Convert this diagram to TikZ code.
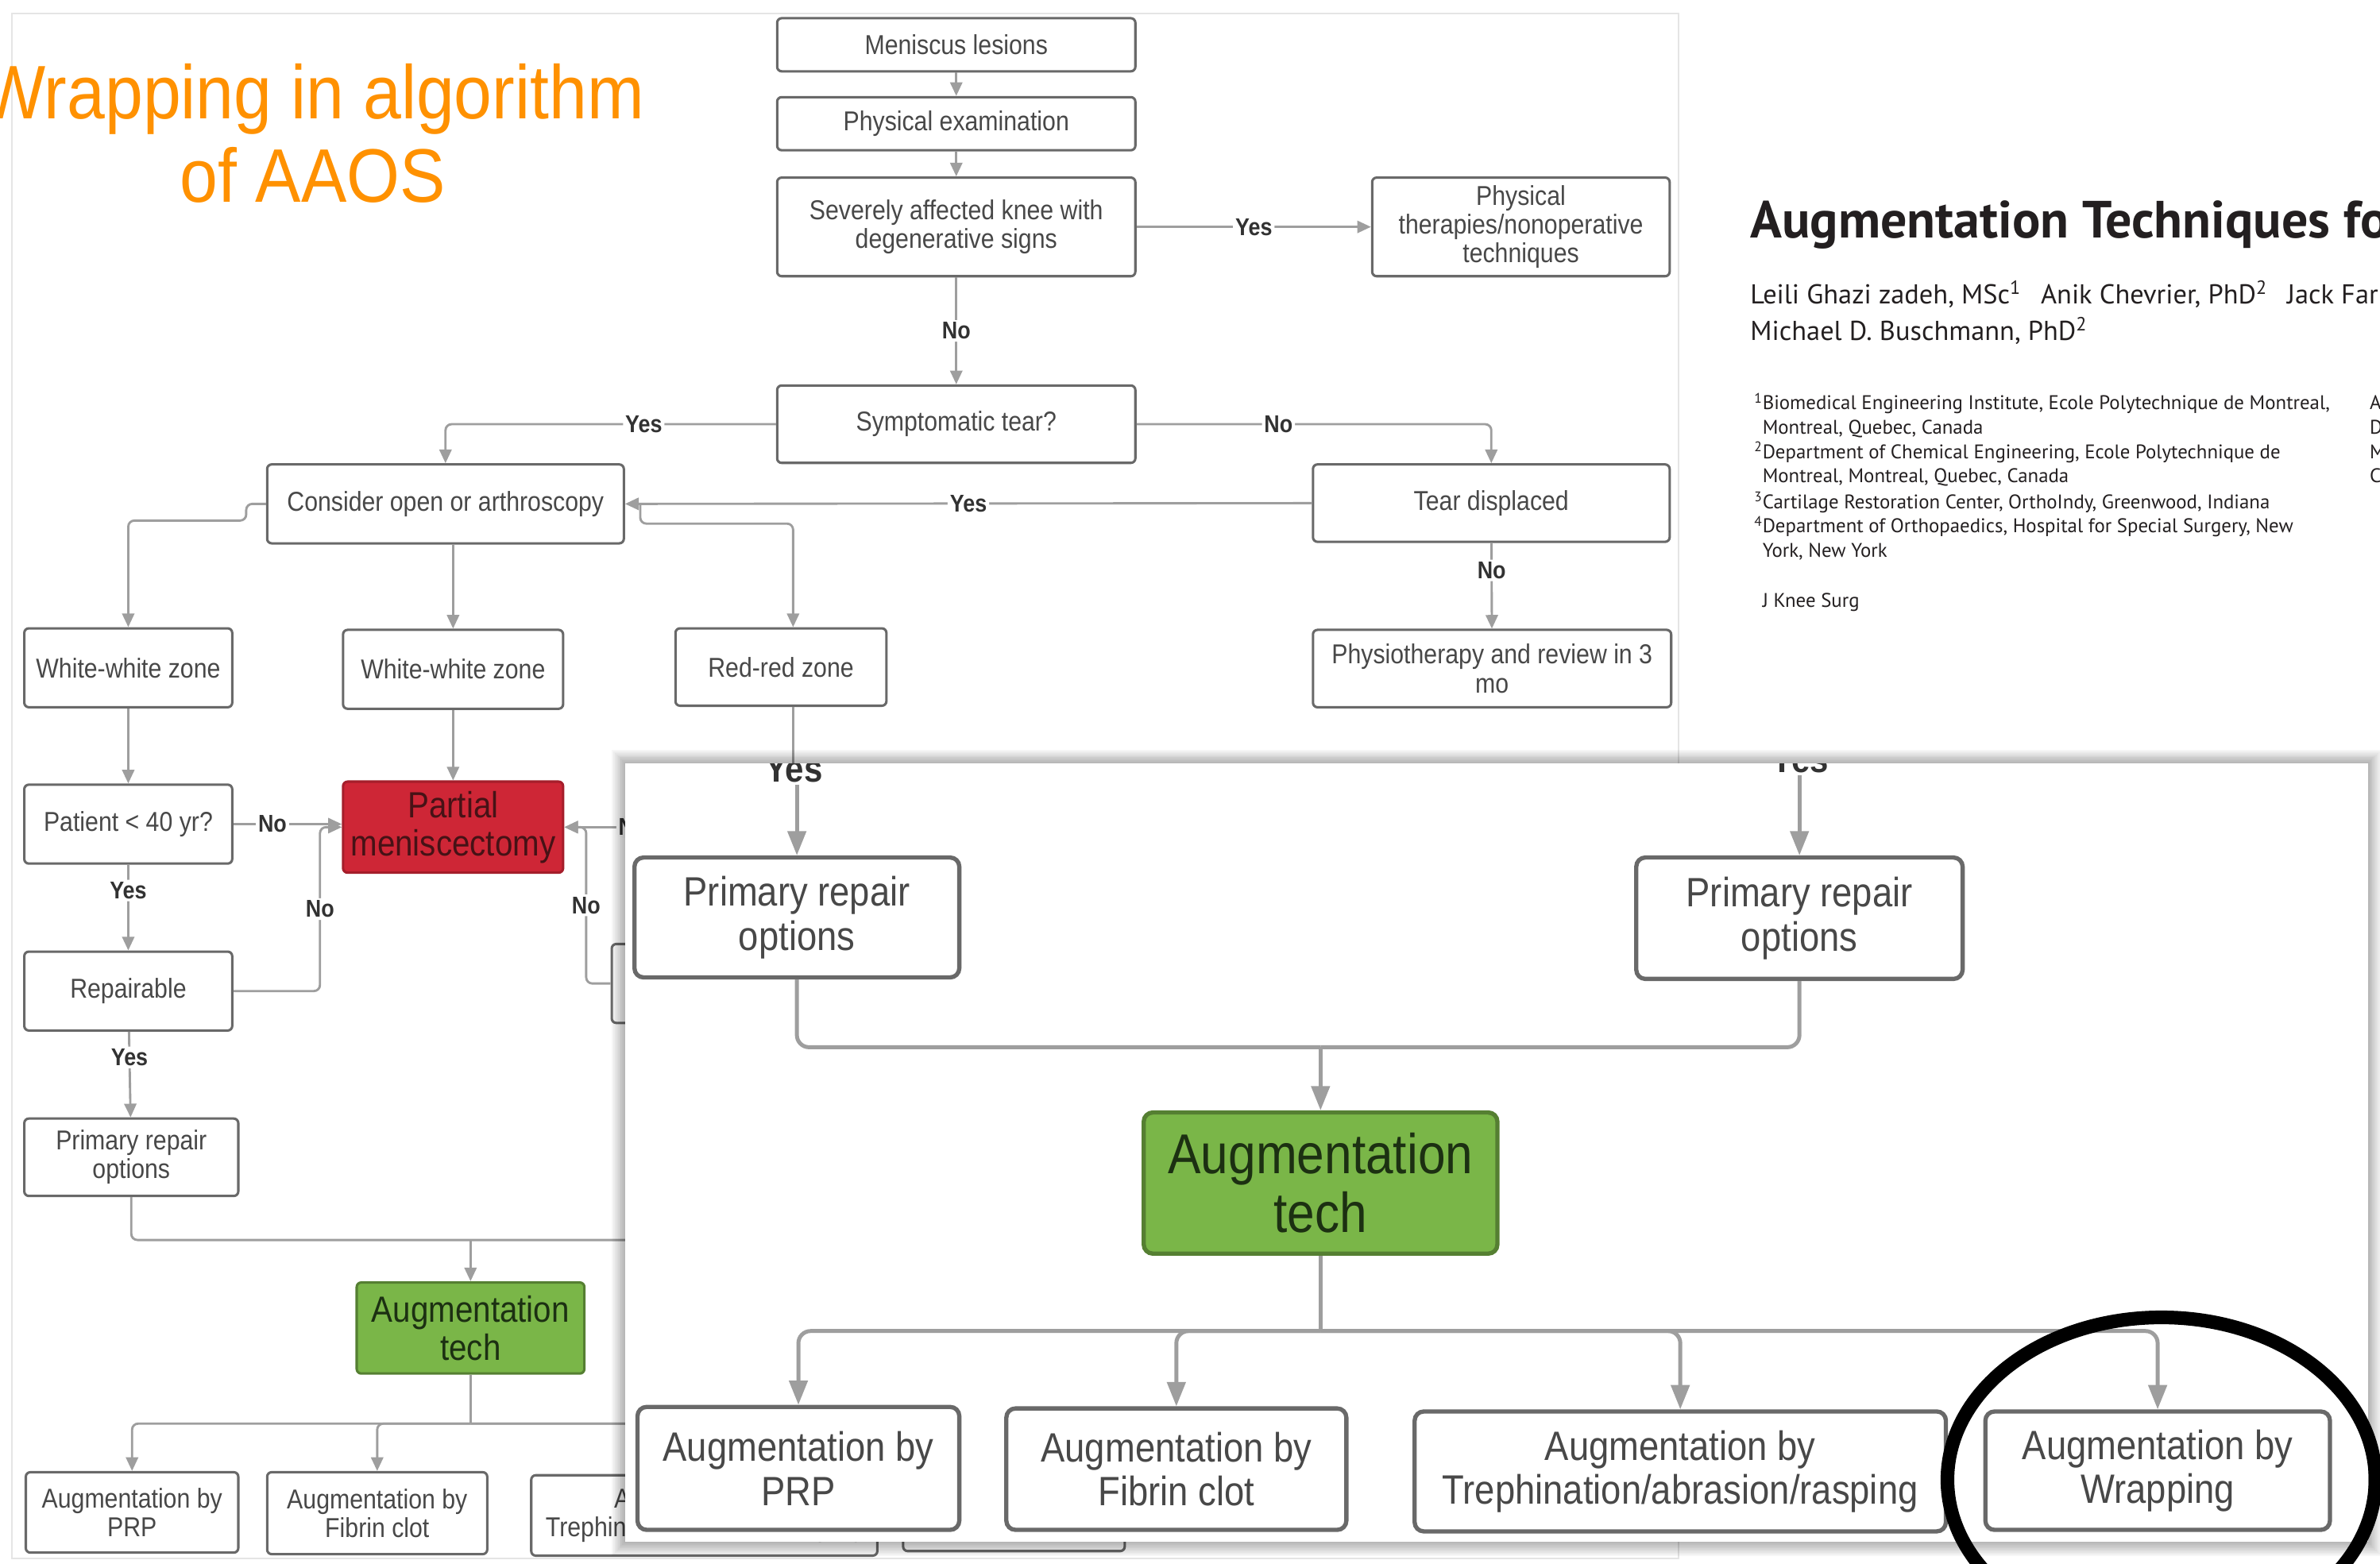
\documentclass[tikz,border=0pt]{standalone}
\usepackage{fontspec}
\setmainfont{Liberation Sans}
\newfontfamily\chartfont[FakeStretch=0.88]{Liberation Sans}
\newfontfamily\slidefont[FakeStretch=0.9]{Liberation Sans}
\newfontfamily\paperfont{PT Sans}
\usetikzlibrary{arrows.meta,positioning,calc}

\definecolor{boxline}{RGB}{105,105,105}
\definecolor{conngray}{RGB}{158,158,158}
\definecolor{charttext}{RGB}{72,72,72}
\definecolor{labtext}{RGB}{50,50,50}
\definecolor{menired}{RGB}{206,38,54}
\definecolor{redtext}{RGB}{70,18,22}
\definecolor{augreen}{RGB}{122,182,72}
\definecolor{greentext}{RGB}{28,48,18}
\definecolor{slideorange}{RGB}{255,145,0}
\definecolor{papertext}{RGB}{35,31,32}

\begin{document}
\begin{tikzpicture}[x=1pt,y=-1pt,
  bgbox/.style={draw=boxline,line width=1.6pt,rounded corners=3pt,fill=white,align=center,text=charttext,inner sep=1pt,font=\chartfont\fontsize{18}{19}\selectfont},
  bigbox/.style={bgbox,line width=2.8pt,rounded corners=6pt,font=\chartfont\fontsize{27}{29}\selectfont},
  wh/.style 2 args={minimum width=#1pt,minimum height=#2pt},
  redbox/.style={fill=menired,draw=menired!80!black,text=redtext,font=\chartfont\fontsize{24}{25}\selectfont},
  greenbox/.style={fill=augreen,draw=augreen!70!black,text=greentext,font=\chartfont\fontsize{24}{25}\selectfont},
  conn/.style={draw=conngray,line width=1.5pt,rounded corners=4pt},
  arr/.style={-{Triangle[length=9pt,width=8pt]}},
  oconn/.style={draw=conngray,line width=2.6pt,rounded corners=8pt},
  oarr/.style={-{Triangle[length=16pt,width=12pt]}},
  lab/.style={fill=white,inner sep=1.5pt,text=labtext,font=\chartfont\bfseries\fontsize{16}{16}\selectfont},
  olab/.style={lab,font=\chartfont\bfseries\fontsize{25}{25}\selectfont},
  paper/.style={anchor=base west,inner sep=0pt,text=papertext,font=\paperfont\fontsize{13}{16}\selectfont}]

\useasboundingbox (0,0) rectangle (1568,1030);

% screenshot of the algorithm
\draw[black!10,line width=1pt] (8,9) rectangle (1106,1027);

\node[bgbox,wh={236}{35}] (ml) at (630,29.5) {Meniscus lesions};
\node[bgbox,wh={236}{35}] (pe) at (630,81.5) {Physical examination};
\node[bgbox,wh={236}{65}] (sak) at (630,149.5) {Severely affected knee with\\degenerative signs};
\node[bgbox,wh={196}{65}] (ptn) at (1002,149.5) {Physical\\therapies/nonoperative\\techniques};
\node[bgbox,wh={236}{51}] (st) at (630,279.5) {Symptomatic tear?};
\node[bgbox,wh={235}{52}] (coa) at (293.5,332) {Consider open or arthroscopy};
\node[bgbox,wh={235}{51}] (td) at (982.5,331.5) {Tear displaced};
\node[bgbox,wh={236}{51}] (phy) at (983,440.5) {Physiotherapy and review in 3\\mo};
\node[bgbox,wh={137}{52}] (ww1) at (84.5,440) {White-white zone};
\node[bgbox,wh={145}{52}] (ww2) at (298.5,441) {White-white zone};
\node[bgbox,wh={139}{51}] (rr) at (514.5,439.5) {Red-red zone};
\node[bgbox,wh={137}{52}] (pat) at (84.5,543) {Patient < 40 yr?};
\node[bgbox,redbox,wh={145}{60}] (pm) at (298.5,545) {Partial\\meniscectomy};
\node[bgbox,wh={137}{52}] (rep) at (84.5,653) {Repairable};
\node[bgbox,wh={137}{52}] (hb) at (471.5,648) {};
\node[bgbox,wh={141}{51}] (pro) at (86.5,762.5) {Primary repair\\options};
\node[bgbox,greenbox,wh={150}{60}] (augt) at (310,875) {Augmentation\\tech};
\node[bgbox,wh={140}{53}] (aprp) at (87,996.5) {Augmentation by\\PRP};
\node[bgbox,wh={145}{54}] (afib) at (248.5,997) {Augmentation by\\Fibrin clot};
\node[bgbox,wh={228}{53}] (atre) at (464,998.5) {Augmentation by\\Trephination/abrasion/rasping};
\node[bgbox,wh={146}{53}] (awr) at (668,995.5) {};

\path[conn,arr] (ml) -- (pe);
\path[conn,arr] (pe) -- (sak);
\path[conn,arr] (sak) -- node[lab] (l1) {Yes} (ptn);
\path[conn,arr] (sak) -- node[lab] (l2) {No} (st);
\path[conn,arr] (st.west) -| node[lab,pos=0.2] (l3) {Yes} (coa.north);
\path[conn,arr] (st.east) -| node[lab,pos=0.2] (l4) {No} (td.north);
\path[conn,arr] (td.west) -- node[lab] (l5) {Yes} (coa.east);
\path[conn,arr] (td) -- node[lab,pos=0.32] (l6) {No} (phy);
\path[conn,arr] (coa.west) -- ++(-13,0) -- ++(0,11) -| (ww1.north);
\path[conn,arr] (coa.south -| ww2.north) -- (ww2.north);
\path[conn,arr] ([xshift=10pt]coa.east) -- ++(0,13) -| ([xshift=8pt]rr.north);
\path[conn,arr] (ww1) -- (pat);
\path[conn,arr] (ww2) -- (pm);
\path[conn,arr] (pat) -- node[lab,pos=0.36] (l7) {No} (pat -| pm.west);
\path[conn,arr] (pat) -- node[lab,pos=0.3] (l8) {Yes} (rep);
\path[conn,arr] (rep.east) -- ++(57,0) -- node[lab] (l9) {No} ++(0,-108) -- (pm.west);
\path[conn,arr] (hb.west) -- ++(-16,0) -- node[lab] (l10) {No} ++(0,-103) -- (pm.east);
\coordinate (pmr) at (462,545);
\path[conn,arr] (pmr) -- node[lab] (l11) {No} (pm.east);
\path[conn,arr] (rep) -- node[lab,pos=0.3] (l12) {Yes} (pro);
\path[conn] ([xshift=8pt]rr.south) -- ++(0,50);
\coordinate (j1) at (310,817);
\coordinate (j1r) at (460,817);
\path[conn] (pro.south) |- (j1r);
\path[conn,arr] (j1) -- (augt.north);
\coordinate (j2) at (310,938);
\path[conn] (augt.south) -- (j2);
\foreach \t in {aprp,afib,atre,awr}
  \path[conn,arr] (j2) -| (\t.north);

% zoomed panel
\coordinate (pnlnw) at (412,503);
\coordinate (pnlse) at (1560,1016);
\foreach \s in {1,...,9}
  \fill[black,opacity=0.035] ([shift={(-\s,-\s)}]pnlnw) rectangle ([shift={(\s,\s)}]pnlse);
\fill[white] (pnlnw) rectangle (pnlse);

\begin{scope}
\clip (pnlnw) rectangle (pnlse);
\node[olab,anchor=base] (oy1) at (523,515) {Yes};
\node[olab,anchor=base] (oy2) at (1186,509) {Yes};
\node[bigbox,wh={214}{79}] (opr1) at (525,604.5) {Primary repair\\options};
\node[bigbox,wh={215}{80}] (opr2) at (1185.5,605) {Primary repair\\options};
\node[bigbox,greenbox,wh={233}{93},font=\chartfont\fontsize{37}{39}\selectfont] (oaug) at (870,779.5) {Augmentation\\tech};
\node[bigbox,wh={212}{81}] (oprp) at (526,967.5) {Augmentation by\\PRP};
\node[bigbox,wh={224}{80}] (ofib) at (775,968) {Augmentation by\\Fibrin clot};
\node[bigbox,wh={350}{79}] (otre) at (1107,969.5) {Augmentation by\\Trephination/abrasion/rasping};
\node[bigbox,wh={227}{78}] (owr) at (1421.5,969) {Augmentation by\\Wrapping};

\path[oconn,oarr] (oy1.south -| opr1.north) -- (opr1.north);
\path[oconn,oarr] (oy2.south -| opr2.north) -- (opr2.north);
\coordinate (oj1) at (870,690);
\path[oconn] (opr1.south) |- (oj1);
\path[oconn] (opr2.south) |- (oj1);
\path[oconn,oarr] (oj1) -- (oaug.north);
\coordinate (oj2) at (870,877);
\path[oconn] (oaug.south) -- (oj2);
\foreach \t in {oprp,ofib,otre,owr}
  \path[oconn,oarr] (oj2) -| (\t.north);
\end{scope}

\draw[black,line width=9pt] (1424,975) ellipse [x radius=141,y radius=107];

% paper header
\node[paper,font=\paperfont\bfseries\fontsize{34.5}{34.5}\selectfont] (ptitle) at (1153,157) {Augmentation Techniques for};
\node[paper,font=\paperfont\fontsize{18}{18}\selectfont] (auth1) at (1153,200) {Leili Ghazi zadeh, MSc\textsuperscript{1}\hspace{13pt}Anik Chevrier, PhD\textsuperscript{2}\hspace{13pt}Jack Farr};
\node[paper,font=\paperfont\fontsize{18}{18}\selectfont] (auth2) at (1153,224) {Michael D. Buschmann, PhD\textsuperscript{2}};
\foreach \yy/\txt in {270/{\llap{\textsuperscript{1}}Biomedical Engineering Institute, Ecole Polytechnique de Montreal,},
  286/{Montreal, Quebec, Canada},
  302/{\llap{\textsuperscript{2}}Department of Chemical Engineering, Ecole Polytechnique de},
  318/{Montreal, Montreal, Quebec, Canada},
  335/{\llap{\textsuperscript{3}}Cartilage Restoration Center, OrthoIndy, Greenwood, Indiana},
  351/{\llap{\textsuperscript{4}}Department of Orthopaedics, Hospital for Special Surgery, New},
  367/{York, New York},
  400/{J Knee Surg}}
  \node[paper] (aff\yy) at (1161,\yy) {\txt};
\foreach \yy/\ch in {270/A,286/D,302/M,318/C}
  \node[paper] (col\ch) at (1561,\yy) {\ch};

% slide title
\node[text=slideorange,align=center,font=\slidefont\fontsize{50}{55}\selectfont] (slidetitle) at (206,88) {Wrapping in algorithm\\of AAOS};
\end{tikzpicture}
\end{document}
